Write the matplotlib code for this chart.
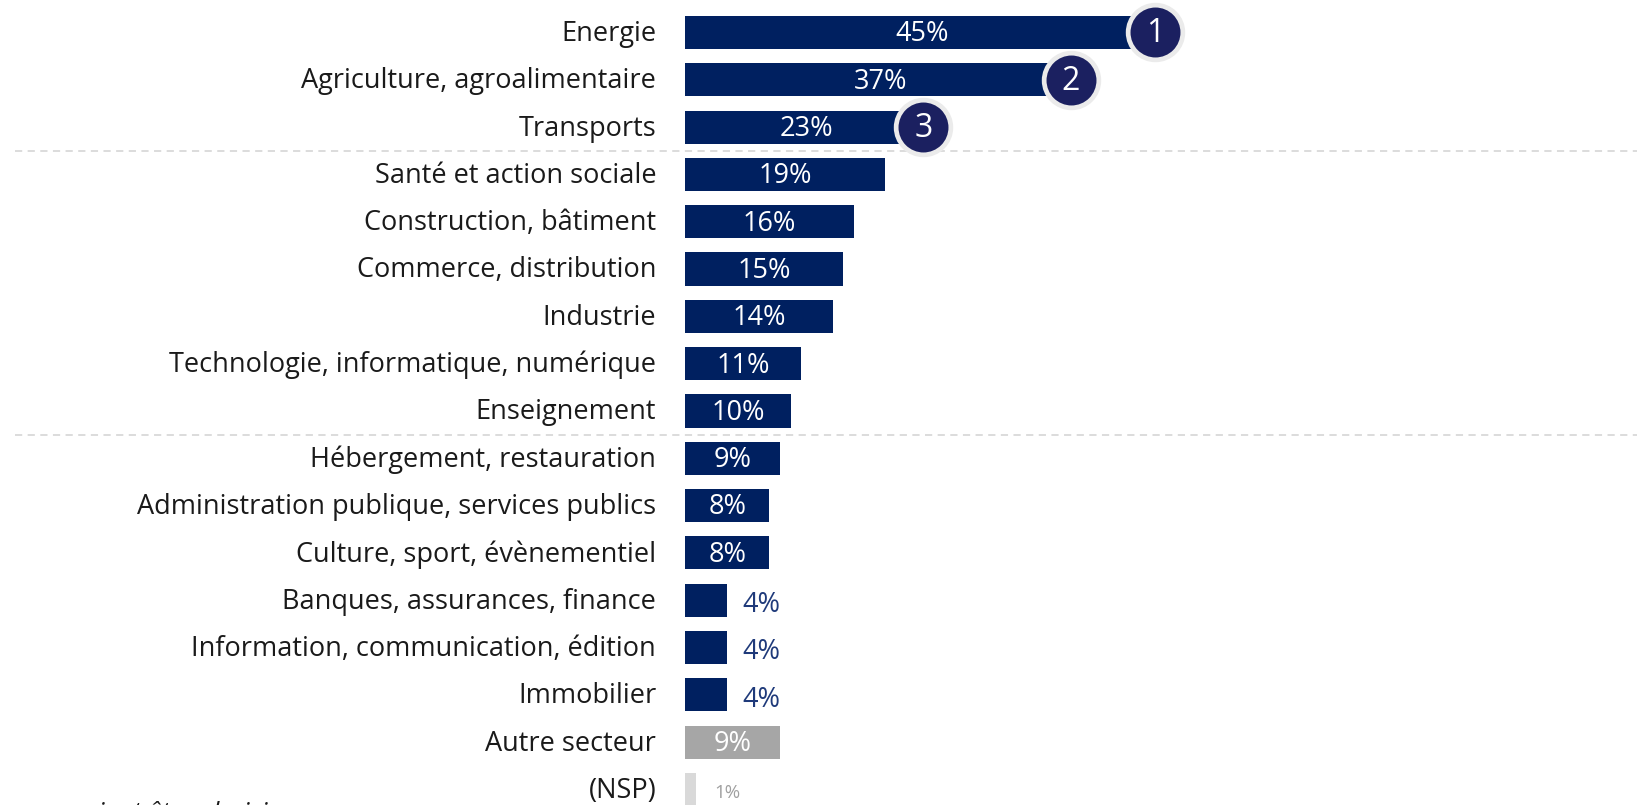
import matplotlib
matplotlib.use("Agg")
import matplotlib.pyplot as plt

# Chart data
sectors = [
    "Energie",
    "Agriculture, agroalimentaire",
    "Transports",
    "Santé et action sociale",
    "Construction, bâtiment",
    "Commerce, distribution",
    "Industrie",
    "Technologie, informatique, numérique",
    "Enseignement",
    "Hébergement, restauration",
    "Administration publique, services publics",
    "Culture, sport, évènementiel",
    "Banques, assurances, finance",
    "Information, communication, édition",
    "Immobilier",
    "Autre secteur",
    "(NSP)",
]
values = [45, 37, 23, 19, 16, 15, 14, 11, 10, 9, 8, 8, 4, 4, 4, 9, 1]
ranks = [1, 2, 3]
group_breaks = [2.5, 8.5]
note = "Plusieurs réponses pouvaient être choisies"

NAVY = "#002060"
BADGE = "#1b2060"
GREY = "#a6a6a6"
LIGHT = "#d9d9d9"

plt.rcParams["font.family"] = ["Open Sans", "DejaVu Sans"]

fig = plt.figure(figsize=(16.37, 8.05), dpi=100)
ax = fig.add_axes([0, 0, 1, 1])
ax.axis("off")

bar_colors = [NAVY] * (len(values) - 2) + [GREY, LIGHT]
y = list(range(len(values)))
ax.barh(y, values, height=0.7, color=bar_colors)

# Category labels
for i, name in enumerate(sectors):
    ax.text(-2.75, i + 0.03, name, ha="right", va="center", fontsize=19.5,
            color="#1a1a1a")

# Value labels
for i, v in enumerate(values):
    txt = f"{v}%"
    if sectors[i] == "(NSP)":
        ax.text(v + 1.8, i + 0.08, txt, ha="left", va="center", fontsize=13.5,
                color="#a0a0a0")
    elif v < 5:
        ax.text(v + 1.4, i + 0.1, txt, ha="left", va="center", fontsize=19.5,
                color="#1f3a7a")
    else:
        ax.text(v / 2, i + 0.04, txt, ha="center", va="center", fontsize=19.5,
                color="white")

# Rank badges
for r in ranks:
    i = r - 1
    ax.scatter(values[i] - 0.4, i, s=1550, color=BADGE, edgecolors="#ebebeb",
               linewidths=3.4, zorder=5)
    ax.text(values[i] - 0.4, i + 0.03, str(r), ha="center", va="center", fontsize=23,
            color="white", zorder=6)

# Group separators
for b in group_breaks:
    ax.axhline(b, xmin=0.009, xmax=1, color="#d9d9d9", linestyle=(0, (4, 3)), linewidth=1.3)

ax.set_xlim(-65.0, 90.3)
ax.set_ylim(16.33, -0.687)

# Footnote, cut off at the bottom edge as in the source
fig.text(0.178, 0.005, note, ha="right", va="top", fontsize=19, style="italic",
         color="#1a1a1a")

fig.savefig("out.png", dpi=100)
